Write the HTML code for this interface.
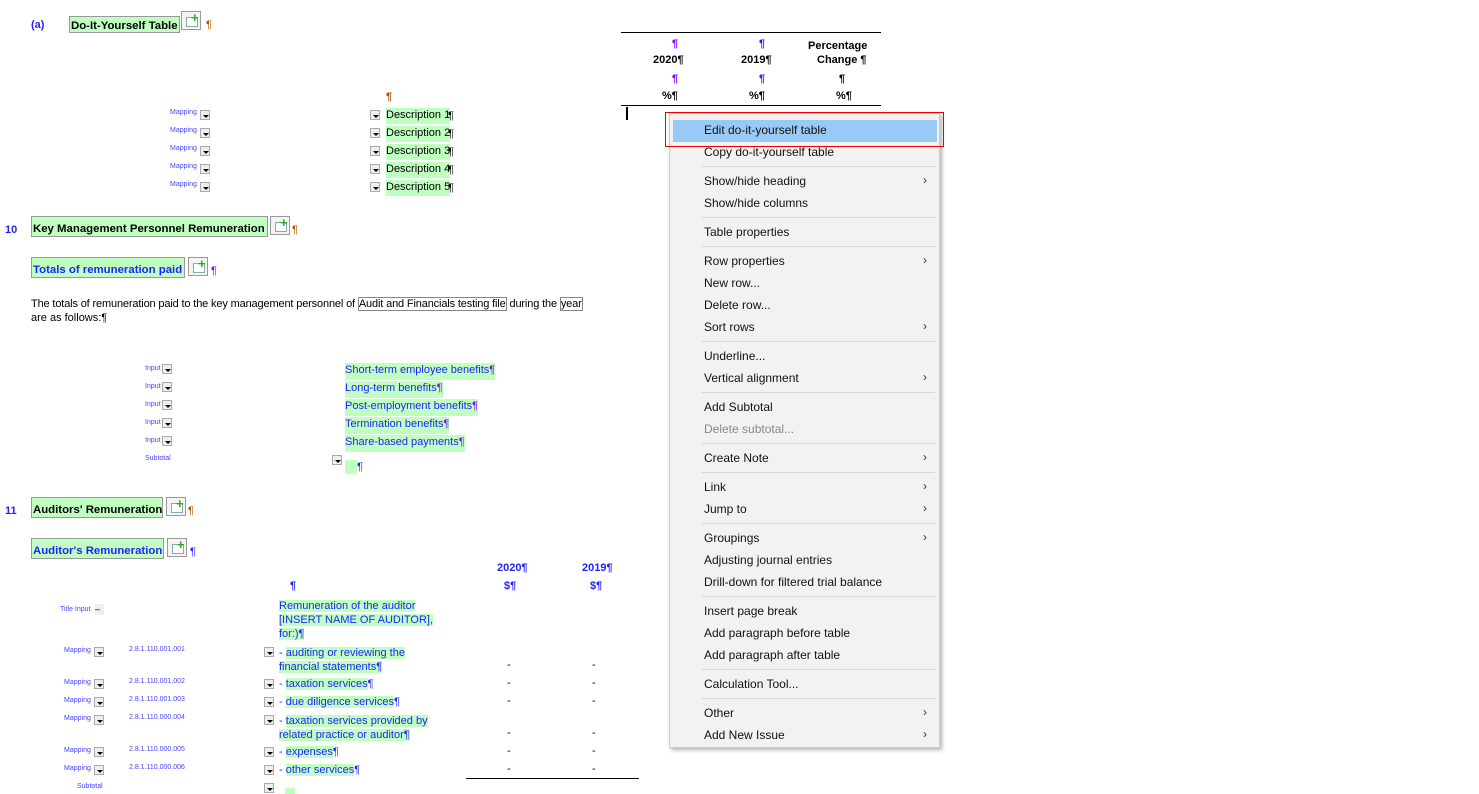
<!DOCTYPE html>
<html><head><meta charset="utf-8"><style>
body{margin:0;width:1479px;height:793px;background:#fff;position:relative;overflow:hidden;font-family:"Liberation Sans",Arial,sans-serif;}
.a{position:absolute;white-space:nowrap;}
.g{background:#bfffbf;}
.hb{border:1px solid #999;background:#bfffbf;font-weight:bold;font-size:11.4px;padding:3px 1px 0 1px;height:17px;box-sizing:border-box;}
.pl{border:1px solid #999;width:20px;height:19px;box-sizing:border-box;background:#f4f4f4;}
.pl:after{content:"";position:absolute;left:4px;top:5px;width:10px;height:8px;border:1px solid #8aa;background:#fff;}
.pl i{position:absolute;left:9px;top:1px;color:#2a2;font-style:normal;font-weight:bold;font-size:13px;line-height:10px;z-index:2}
.s{font-size:7px;color:#44f;}
.dd{width:10px;height:10px;border:1px solid #aaa;background:#eee;box-sizing:border-box;}
.dd:after{content:"";position:absolute;left:2px;top:4px;border-left:3px solid transparent;border-right:3px solid transparent;border-top:3px solid #000;}
.t{font-size:11px;}
.b{color:#22f;}
.m{position:absolute;left:669px;top:113px;width:271px;height:635px;background:#f2f2f2;border:1px solid #ccc;box-sizing:border-box;box-shadow:2px 2px 4px rgba(0,0,0,.3);}
.mi{position:absolute;left:34px;font-size:12px;color:#111;}
.sep{position:absolute;left:32px;right:4px;height:1px;background:#d8d8d8;}
.ar{position:absolute;right:12px;font-size:12px;color:#333;}
</style></head><body>
<div class="a t b" style="left:31px;top:19px;font-weight:bold;font-size:11px">(a)</div>
<div class="a hb" style="left:69px;top:16px;">Do-It-Yourself Table</div>
<div class="a pl" style="left:181px;top:11px"><i>+</i></div>
<div class="a t" style="left:206px;top:19px;color:#a50">¶</div>

<div class="a" style="left:621px;top:32px;width:260px;height:1px;background:#000"></div>
<div class="a" style="left:621px;top:105px;width:260px;height:1px;background:#000"></div>
<div class="a t" style="left:672px;top:38px;color:#80f;font-weight:bold">¶</div>
<div class="a t" style="left:759px;top:38px;color:#22f;font-weight:bold">¶</div>
<div class="a t" style="left:808px;top:40px;font-weight:bold">Percentage</div>
<div class="a t" style="left:653px;top:54px;font-weight:bold">2020¶</div>
<div class="a t" style="left:741px;top:54px;font-weight:bold">2019¶</div>
<div class="a t" style="left:817px;top:54px;font-weight:bold">Change ¶</div>
<div class="a t" style="left:672px;top:73px;color:#80f;font-weight:bold">¶</div>
<div class="a t" style="left:759px;top:73px;color:#22f;font-weight:bold">¶</div>
<div class="a t" style="left:839px;top:73px;font-weight:bold">¶</div>
<div class="a t" style="left:662px;top:90px;font-weight:bold">%¶</div>
<div class="a t" style="left:749px;top:90px;font-weight:bold">%¶</div>
<div class="a t" style="left:836px;top:90px;font-weight:bold">%¶</div>
<div class="a" style="left:626px;top:107px;width:2px;height:13px;background:#000"></div>

<div class="a t" style="left:386px;top:91px;color:#a50;font-weight:bold">¶</div>
<div class="a s" style="left:170px;top:109px">Mapping</div><div class="a dd" style="left:200px;top:110px"></div><div class="a dd" style="left:370px;top:110px"></div><div class="a t g" style="left:386px;top:108px;height:15px;padding-top:1px">Description 1</div><div class="a t" style="left:448px;top:110px">¶</div>
<div class="a s" style="left:170px;top:127px">Mapping</div><div class="a dd" style="left:200px;top:128px"></div><div class="a dd" style="left:370px;top:128px"></div><div class="a t g" style="left:386px;top:126px;height:15px;padding-top:1px">Description 2</div><div class="a t" style="left:448px;top:128px">¶</div>
<div class="a s" style="left:170px;top:145px">Mapping</div><div class="a dd" style="left:200px;top:146px"></div><div class="a dd" style="left:370px;top:146px"></div><div class="a t g" style="left:386px;top:144px;height:15px;padding-top:1px">Description 3</div><div class="a t" style="left:448px;top:146px">¶</div>
<div class="a s" style="left:170px;top:163px">Mapping</div><div class="a dd" style="left:200px;top:164px"></div><div class="a dd" style="left:370px;top:164px"></div><div class="a t g" style="left:386px;top:162px;height:15px;padding-top:1px">Description 4</div><div class="a t" style="left:448px;top:164px">¶</div>
<div class="a s" style="left:170px;top:181px">Mapping</div><div class="a dd" style="left:200px;top:182px"></div><div class="a dd" style="left:370px;top:182px"></div><div class="a t g" style="left:386px;top:180px;height:15px;padding-top:1px">Description 5</div><div class="a t" style="left:448px;top:182px">¶</div>

<div class="a t b" style="left:5px;top:224px;font-weight:bold">10</div>
<div class="a hb" style="left:31px;top:216px;height:21px;padding-top:6px;width:237px">Key Management Personnel Remuneration</div>
<div class="a pl" style="left:270px;top:216px"><i>+</i></div>
<div class="a t" style="left:292px;top:224px;color:#a50">¶</div>
<div class="a hb b" style="left:31px;top:257px;height:21px;padding-top:6px;width:154px">Totals of remuneration paid</div>
<div class="a pl" style="left:188px;top:257px"><i>+</i></div>
<div class="a t" style="left:211px;top:265px;color:#80f">¶</div>
<div class="a t" style="left:31px;top:298px;letter-spacing:-0.15px">The totals of remuneration paid to the key management personnel of <span style="border:1px solid #888">Audit and Financials testing file</span> during the <span style="border:1px solid #888">year</span></div>
<div class="a t" style="left:31px;top:312px">are as follows:¶</div>

<div class="a s" style="left:145px;top:365px">Input</div><div class="a dd" style="left:162px;top:364px"></div><div class="a t b g" style="left:345px;top:363px;height:16px;padding-top:1px">Short-term employee benefits<span style="color:#80f">¶</span></div>
<div class="a s" style="left:145px;top:383px">Input</div><div class="a dd" style="left:162px;top:382px"></div><div class="a t b g" style="left:345px;top:381px;height:16px;padding-top:1px">Long-term benefits<span style="color:#80f">¶</span></div>
<div class="a s" style="left:145px;top:401px">Input</div><div class="a dd" style="left:162px;top:400px"></div><div class="a t b g" style="left:345px;top:399px;height:16px;padding-top:1px">Post-employment benefits<span style="color:#80f">¶</span></div>
<div class="a s" style="left:145px;top:419px">Input</div><div class="a dd" style="left:162px;top:418px"></div><div class="a t b g" style="left:345px;top:417px;height:16px;padding-top:1px">Termination benefits<span style="color:#80f">¶</span></div>
<div class="a s" style="left:145px;top:437px">Input</div><div class="a dd" style="left:162px;top:436px"></div><div class="a t b g" style="left:345px;top:435px;height:16px;padding-top:1px">Share-based payments<span style="color:#80f">¶</span></div>
<div class="a s" style="left:145px;top:455px">Subtotal</div><div class="a dd" style="left:332px;top:455px"></div><div class="a g" style="left:345px;top:460px;width:12px;height:14px"></div><div class="a t b" style="left:357px;top:461px">¶</div>

<div class="a t b" style="left:5px;top:505px;font-weight:bold">11</div>
<div class="a hb" style="left:31px;top:497px;height:21px;padding-top:6px;width:132px">Auditors' Remuneration</div>
<div class="a pl" style="left:166px;top:497px"><i>+</i></div>
<div class="a t" style="left:188px;top:505px;color:#a50">¶</div>
<div class="a hb b" style="left:31px;top:538px;height:21px;padding-top:6px;width:133px">Auditor's Remuneration</div>
<div class="a pl" style="left:167px;top:538px"><i>+</i></div>
<div class="a t b" style="left:190px;top:546px">¶</div>

<div class="a t b" style="left:497px;top:562px;font-weight:bold">2020¶</div>
<div class="a t b" style="left:582px;top:562px;font-weight:bold">2019¶</div>
<div class="a t b" style="left:290px;top:580px;font-weight:bold">¶</div>
<div class="a t b" style="left:504px;top:580px;font-weight:bold">$¶</div>
<div class="a t b" style="left:590px;top:580px;font-weight:bold">$¶</div>
<div class="a s" style="left:60px;top:606px">Title Input</div><div class="a" style="left:95px;top:604px;width:9px;height:11px;background:#eee;font-size:9px;line-height:10px">–</div>
<div class="a t b" style="left:279px;top:599px;line-height:14px"><span class="g">Remuneration of the auditor</span><br><span class="g">[INSERT NAME OF AUDITOR],</span><br><span class="g">for:)¶</span></div>

<div class="a s" style="left:64px;top:647px">Mapping</div><div class="a dd" style="left:94px;top:647px"></div><div class="a s" style="left:129px;top:646px">2.8.1.110.001.001</div><div class="a dd" style="left:264px;top:647px"></div>
<div class="a t b" style="left:279px;top:646px;line-height:14px">- <span class="g">auditing or reviewing the</span><br><span class="g">financial statements¶</span></div>
<div class="a s" style="left:64px;top:679px">Mapping</div><div class="a dd" style="left:94px;top:679px"></div><div class="a s" style="left:129px;top:678px">2.8.1.110.001.002</div><div class="a dd" style="left:264px;top:679px"></div><div class="a t b" style="left:279px;top:678px">- <span class="g">taxation services</span>¶</div>
<div class="a s" style="left:64px;top:697px">Mapping</div><div class="a dd" style="left:94px;top:697px"></div><div class="a s" style="left:129px;top:696px">2.8.1.110.001.003</div><div class="a dd" style="left:264px;top:697px"></div><div class="a t b" style="left:279px;top:696px">- <span class="g">due diligence services</span>¶</div>
<div class="a s" style="left:64px;top:715px">Mapping</div><div class="a dd" style="left:94px;top:715px"></div><div class="a s" style="left:129px;top:714px">2.8.1.110.000.004</div><div class="a dd" style="left:264px;top:715px"></div>
<div class="a t b" style="left:279px;top:714px;line-height:14px">- <span class="g">taxation services provided by</span><br><span class="g">related practice or auditor¶</span></div>
<div class="a s" style="left:64px;top:747px">Mapping</div><div class="a dd" style="left:94px;top:747px"></div><div class="a s" style="left:129px;top:746px">2.8.1.110.000.005</div><div class="a dd" style="left:264px;top:747px"></div><div class="a t b" style="left:279px;top:746px">- <span class="g">expenses</span>¶</div>
<div class="a s" style="left:64px;top:765px">Mapping</div><div class="a dd" style="left:94px;top:765px"></div><div class="a s" style="left:129px;top:764px">2.8.1.110.000.006</div><div class="a dd" style="left:264px;top:765px"></div><div class="a t b" style="left:279px;top:764px">- <span class="g">other services</span>¶</div>
<div class="a s" style="left:77px;top:783px">Subtotal</div><div class="a dd" style="left:264px;top:783px"></div><div class="a g" style="left:285px;top:788px;width:10px;height:6px"></div>
<div class="a" style="left:466px;top:778px;width:173px;height:1px;background:#000"></div>
<div class="a t" style="left:507px;top:659px">-</div><div class="a t" style="left:592px;top:659px">-</div>
<div class="a t" style="left:507px;top:677px">-</div><div class="a t" style="left:592px;top:677px">-</div>
<div class="a t" style="left:507px;top:695px">-</div><div class="a t" style="left:592px;top:695px">-</div>
<div class="a t" style="left:507px;top:727px">-</div><div class="a t" style="left:592px;top:727px">-</div>
<div class="a t" style="left:507px;top:745px">-</div><div class="a t" style="left:592px;top:745px">-</div>
<div class="a t" style="left:507px;top:763px">-</div><div class="a t" style="left:592px;top:763px">-</div>

<div class="m">
<div class="a" style="left:3px;top:6px;width:264px;height:22px;background:#99c9f5"></div>
<div class="mi" style="top:9px">Edit do-it-yourself table</div>
<div class="mi" style="top:31px">Copy do-it-yourself table</div>
<div class="sep" style="top:52px"></div>
<div class="mi" style="top:60px">Show/hide heading</div><div class="ar" style="top:59px">›</div>
<div class="mi" style="top:82px">Show/hide columns</div>
<div class="sep" style="top:103px"></div>
<div class="mi" style="top:111px">Table properties</div>
<div class="sep" style="top:132px"></div>
<div class="mi" style="top:140px">Row properties</div><div class="ar" style="top:139px">›</div>
<div class="mi" style="top:162px">New row...</div>
<div class="mi" style="top:184px">Delete row...</div>
<div class="mi" style="top:206px">Sort rows</div><div class="ar" style="top:205px">›</div>
<div class="sep" style="top:227px"></div>
<div class="mi" style="top:235px">Underline...</div>
<div class="mi" style="top:257px">Vertical alignment</div><div class="ar" style="top:256px">›</div>
<div class="sep" style="top:278px"></div>
<div class="mi" style="top:286px">Add Subtotal</div>
<div class="mi" style="top:308px;color:#888">Delete subtotal...</div>
<div class="sep" style="top:329px"></div>
<div class="mi" style="top:337px">Create Note</div><div class="ar" style="top:336px">›</div>
<div class="sep" style="top:358px"></div>
<div class="mi" style="top:366px">Link</div><div class="ar" style="top:365px">›</div>
<div class="mi" style="top:388px">Jump to</div><div class="ar" style="top:387px">›</div>
<div class="sep" style="top:409px"></div>
<div class="mi" style="top:417px">Groupings</div><div class="ar" style="top:416px">›</div>
<div class="mi" style="top:439px">Adjusting journal entries</div>
<div class="mi" style="top:461px">Drill-down for filtered trial balance</div>
<div class="sep" style="top:482px"></div>
<div class="mi" style="top:490px">Insert page break</div>
<div class="mi" style="top:512px">Add paragraph before table</div>
<div class="mi" style="top:534px">Add paragraph after table</div>
<div class="sep" style="top:555px"></div>
<div class="mi" style="top:563px">Calculation Tool...</div>
<div class="sep" style="top:584px"></div>
<div class="mi" style="top:592px">Other</div><div class="ar" style="top:591px">›</div>
<div class="mi" style="top:614px">Add New Issue</div><div class="ar" style="top:613px">›</div>
</div>
<div class="a" style="left:665px;top:112px;width:279px;height:35px;border:1px solid #e00;box-sizing:border-box"></div>
</body></html>
